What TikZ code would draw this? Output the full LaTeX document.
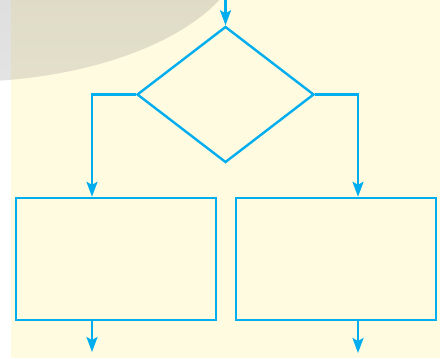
\documentclass[tikz,border=0pt]{standalone}
\usetikzlibrary{shapes.geometric,arrows.meta}
\definecolor{bgyellow}{RGB}{255,251,224}
\definecolor{flowblue}{RGB}{0,174,239}
\definecolor{shade}{RGB}{20,25,60}
\begin{document}
\begin{tikzpicture}[x=1pt,y=-1pt,
  flowline/.style={draw=flowblue,line width=2.4pt},
  arr/.style={flowline,-{Stealth[length=15pt,width=11pt,inset=3pt]}},
  procbox/.style={flowline,rectangle,minimum width=200pt,minimum height=122pt,inner sep=0pt},
  decbox/.style={flowline,diamond,minimum width=177pt,minimum height=136pt,inner sep=0pt}]
\useasboundingbox (0,0) rectangle (443,358);
\fill[white] (0,0) rectangle (443,358);
\fill[bgyellow] (11,0) rectangle (440,358);
\begin{scope}
\clip (0,0) rectangle (443,358);
\fill[shade,opacity=0.12] (-40,-60) ellipse [x radius=286pt, y radius=142pt];
\end{scope}
\node[decbox] (d) at (225.5,94.5) {};
\node[procbox] (lr) at (116,259) {};
\node[procbox] (rr) at (336,259) {};
\coordinate (top) at (225.5,0);
\coordinate (lx) at (92,94.5);
\coordinate (rx) at (358,94.5);
\coordinate (lb) at (92,352);
\coordinate (rb) at (358,353);
\draw[arr] (top) -- (d.north);
\draw[arr] (d.west) -- (lx) -- (lx |- lr.north);
\draw[arr] (d.east) -- (rx) -- (rx |- rr.north);
\draw[arr] (lb |- lr.south) -- (lb);
\draw[arr] (rb |- rr.south) -- (rb);
\end{tikzpicture}
\end{document}
